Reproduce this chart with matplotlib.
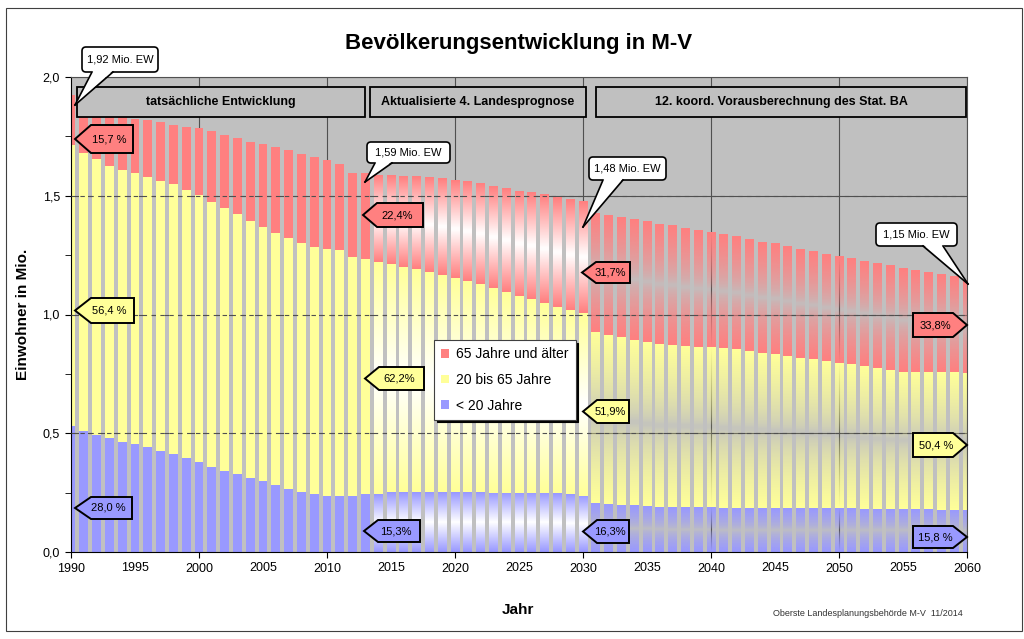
import numpy as np
import matplotlib.pyplot as plt
from matplotlib.patches import Polygon, FancyBboxPatch, Rectangle
from matplotlib.lines import Line2D
from matplotlib.colors import to_rgb
from matplotlib.transforms import Affine2D

plt.rcParams['font.family'] = ['Liberation Sans', 'DejaVu Sans']

"""
Daten (Mio. Einwohner, aus der Grafik abgelesen)
"""
jahre = np.arange(1990, 2061)

unter20 = [0.532, 0.511, 0.493, 0.479, 0.465, 0.455, 0.444, 0.427, 0.411, 0.394,
           0.378, 0.359, 0.342, 0.328, 0.313, 0.298, 0.284, 0.267, 0.254, 0.244,
           0.236, 0.235, 0.236, 0.245, 0.244, 0.251, 0.251, 0.251, 0.251, 0.251,
           0.251, 0.251, 0.251, 0.250, 0.250, 0.250, 0.250, 0.249, 0.248, 0.244,
           0.236, 0.205, 0.204, 0.198, 0.197, 0.194, 0.191, 0.188, 0.188, 0.188,
           0.188, 0.185, 0.185, 0.184, 0.184, 0.184, 0.184, 0.184, 0.184, 0.184,
           0.184, 0.184, 0.183, 0.183, 0.183, 0.182, 0.180, 0.179, 0.178, 0.178,
           0.177]

von20bis65 = [1.182, 1.170, 1.160, 1.148, 1.143, 1.139, 1.136, 1.137, 1.137, 1.131,
              1.125, 1.116, 1.105, 1.094, 1.082, 1.069, 1.058, 1.054, 1.046, 1.039,
              1.040, 1.037, 1.005, 0.989, 0.978, 0.960, 0.950, 0.939, 0.928, 0.915,
              0.904, 0.889, 0.876, 0.862, 0.846, 0.829, 0.814, 0.798, 0.785, 0.775,
              0.769, 0.723, 0.710, 0.706, 0.696, 0.689, 0.685, 0.684, 0.679, 0.677,
              0.674, 0.673, 0.668, 0.662, 0.655, 0.648, 0.641, 0.634, 0.627, 0.620,
              0.613, 0.606, 0.600, 0.590, 0.583, 0.577, 0.577, 0.578, 0.578, 0.578,
              0.578]

ab65 = [0.210, 0.211, 0.212, 0.216, 0.224, 0.229, 0.239, 0.248, 0.252, 0.265,
        0.281, 0.299, 0.309, 0.320, 0.333, 0.350, 0.362, 0.372, 0.376, 0.379,
        0.375, 0.362, 0.356, 0.360, 0.365, 0.374, 0.382, 0.390, 0.397, 0.406,
        0.411, 0.418, 0.422, 0.429, 0.435, 0.442, 0.449, 0.456, 0.460, 0.466,
        0.470, 0.501, 0.505, 0.505, 0.508, 0.508, 0.505, 0.502, 0.496, 0.491,
        0.484, 0.477, 0.472, 0.468, 0.465, 0.464, 0.461, 0.458, 0.454, 0.449,
        0.447, 0.444, 0.439, 0.440, 0.438, 0.436, 0.428, 0.419, 0.410, 0.401,
        0.390]

serien = ["< 20 Jahre", "20 bis 65 Jahre", "65 Jahre und älter"]
farben = ["#9999FF", "#FFFF99", "#FF8080"]

prognose_start = 2014     # Aktualisierte 4. Landesprognose
bund_start = 2031         # 12. koord. Vorausberechnung

perioden = ["tatsächliche Entwicklung", "Aktualisierte 4. Landesprognose",
            "12. koord. Vorausberechnung des Stat. BA"]

"""
Figur
"""
W, H = 1024, 639
fig = plt.figure(figsize=(W / 100, H / 100), dpi=100)
px = Affine2D().scale(1 / W, -1 / H).translate(0, 1) + fig.transFigure

ax = fig.add_axes([71 / W, 1 - 552 / H, (967 - 71) / W, (552 - 77) / H])
ax.set_facecolor("#C0C0C0")


def verlauf(farbe, modus, n=64):
    t = np.linspace(0, 1, n)
    s = np.abs(2 * t - 1)
    rgb = np.array(to_rgb(farbe))
    img = np.ones((n, 1, 4))
    if modus == "weiss":
        img[:, 0, :3] = 1 - (1 - rgb) * s[:, None]
    else:
        img[:, 0, :3] = rgb
        img[:, 0, 3] = s ** 0.6
    return img


unten = np.zeros(len(jahre))
handles = []
for werte, farbe, name in zip([unter20, von20bis65, ab65], farben, serien):
    balken = ax.bar(jahre, werte, bottom=unten, width=0.7, color=farbe,
                    linewidth=0, zorder=2, label=name)
    handles.append(balken)
    for jahr, b in zip(jahre, balken):
        if jahr >= prognose_start:
            modus = "weiss" if jahr < bund_start else "transparent"
            x0, y0 = b.get_x(), b.get_y()
            ax.imshow(verlauf(farbe, modus),
                      extent=[x0, x0 + b.get_width(), y0, y0 + b.get_height()],
                      origin="lower", aspect="auto", interpolation="bilinear",
                      zorder=2)
            b.set_facecolor("none")
    unten = unten + np.array(werte)

# Gitter
for x in range(2000, 2061, 10):
    ax.axvline(x, color="#505050", lw=0.8, zorder=1)
for y in [0.5, 1.0, 1.5, 2.0]:
    ax.axhline(y, color="#505050", lw=0.8, zorder=1)
for y in [0.5, 1.0, 1.5]:
    ax.axhline(y, color="#505050", lw=0.8, ls=(0, (4, 4)), zorder=3)

ax.set_xlim(1990, 2060)
ax.set_ylim(0, 2.0)

ax.set_xticks(range(1990, 2061, 10), [str(j) for j in range(1990, 2061, 10)])
ax.set_xticks(range(1995, 2060, 10), [str(j) for j in range(1995, 2060, 10)], minor=True)
ax.set_yticks([0, 0.5, 1.0, 1.5, 2.0], ["0,0", "0,5", "1,0", "1,5", "2,0"])
ax.set_yticks(np.arange(0.25, 2.0, 0.5), minor=True)
ax.tick_params(axis="x", which="major", length=4, pad=4, labelsize=9)
ax.tick_params(axis="x", which="minor", length=0, pad=7, labelsize=9)
ax.tick_params(axis="y", which="both", length=4, pad=4, labelsize=9)

for s in ["top", "right"]:
    ax.spines[s].set_color("#505050")
    ax.spines[s].set_linewidth(0.8)

ax.set_ylabel("Einwohner in Mio.", fontweight="bold", fontsize=11)
ax.yaxis.set_label_coords(-0.046, 0.5)
ax.set_xlabel("Jahr", fontweight="bold", fontsize=11)
ax.xaxis.set_label_coords(0.499, -0.107)

lg = ax.legend(handles=handles[::-1], loc="upper left", bbox_to_anchor=(0.405, 0.446),
               borderaxespad=0, fontsize=10, handlelength=0.6, handleheight=0.6,
               handletextpad=0.5, labelspacing=0.85, borderpad=0.5,
               fancybox=False, framealpha=1, edgecolor="#404040",
               shadow={"color": "black", "alpha": 1})
lg.get_frame().set_linewidth(0.8)
for h in lg.legend_handles:
    h.set_linewidth(0)

"""
Beschriftungen
"""
fig.text(519 / W, 1 - 44 / H, "Bevölkerungsentwicklung in M-V",
         ha="center", va="center", fontsize=16, fontweight="bold")
fig.text(963 / W, 1 - 613 / H, "Oberste Landesplanungsbehörde M-V  11/2014",
         ha="right", va="center", fontsize=6.5, color="#333333")

fig.add_artist(Rectangle((6, 8), 1016, 623, transform=px, fill=False,
                         ec="#404040", lw=0.8))

for (x0, x1), text in zip([(77, 365), (370, 586), (596, 966)], perioden):
    fig.add_artist(Rectangle((x0, 87), x1 - x0, 30, transform=px,
                             fc="#C0C0C0", ec="black", lw=1.3, zorder=5))
    fig.text((x0 + x1) / 2 / W, 1 - 102 / H, text, ha="center", va="center",
             fontsize=9, fontweight="bold", zorder=6)


def sprechblase(box, basis, spitze, text):
    x0, y0, x1, y1 = box
    fig.add_artist(FancyBboxPatch((x0, y0), x1 - x0, y1 - y0,
                                  boxstyle="round,pad=0,rounding_size=4",
                                  transform=px, fc="white", ec="black",
                                  lw=1.2, zorder=6))
    fig.add_artist(Polygon([(basis[0], y1 - 1.5), (basis[1], y1 - 1.5), spitze],
                           transform=px, fc="white", ec="none", zorder=7))
    for bx in basis:
        fig.add_artist(Line2D([bx, spitze[0]], [y1, spitze[1]], transform=px,
                              color="black", lw=1.2, zorder=7))
    fig.text((x0 + x1) / 2 / W, 1 - (y0 + y1) / 2 / H, text, ha="center",
             va="center", fontsize=8, zorder=8)


sprechblase((82, 47, 158, 72), (92, 113), (75, 105), "1,92 Mio. EW")
sprechblase((367, 142, 450, 163), (375, 392), (365, 182), "1,59 Mio. EW")
sprechblase((589, 157, 666, 180), (603, 623), (583, 227), "1,48 Mio. EW")
sprechblase((876, 223, 957, 246), (923, 943), (968, 284), "1,15 Mio. EW")


def pfeil(spitze_x, y0, y1, ende_x, text, farbe, d=14):
    ym = (y0 + y1) / 2
    r = 1 if ende_x > spitze_x else -1
    pts = [(spitze_x, ym), (spitze_x + r * d, y0), (ende_x, y0),
           (ende_x, y1), (spitze_x + r * d, y1)]
    fig.add_artist(Polygon(pts, transform=px, fc=farbe, ec="black",
                           lw=1.4, zorder=6))
    xm = (spitze_x + r * d * 0.6 + ende_x) / 2
    fig.text(xm / W, 1 - ym / H, text, ha="center", va="center",
             fontsize=8, zorder=7)


rot, gelb, blau = farben[2], farben[1], farben[0]
pfeil(75, 125, 153, 133, "15,7 %", rot, d=16)
pfeil(75, 298, 323, 134, "56,4 %", gelb, d=16)
pfeil(75, 497, 519, 132, "28,0 %", blau, d=16)
pfeil(363, 203, 227, 423, "22,4%", rot)
pfeil(365, 367, 390, 424, "62,2%", gelb)
pfeil(364, 520, 542, 420, "15,3%", blau)
pfeil(582, 262, 283, 630, "31,7%", rot)
pfeil(583, 400, 423, 629, "51,9%", gelb)
pfeil(583, 520, 543, 629, "16,3%", blau)
pfeil(967, 313, 337, 913, "33,8%", rot)
pfeil(967, 433, 457, 913, "50,4 %", gelb)
pfeil(967, 526, 548, 913, "15,8 %", blau)

fig.savefig("out.png", dpi=100)
